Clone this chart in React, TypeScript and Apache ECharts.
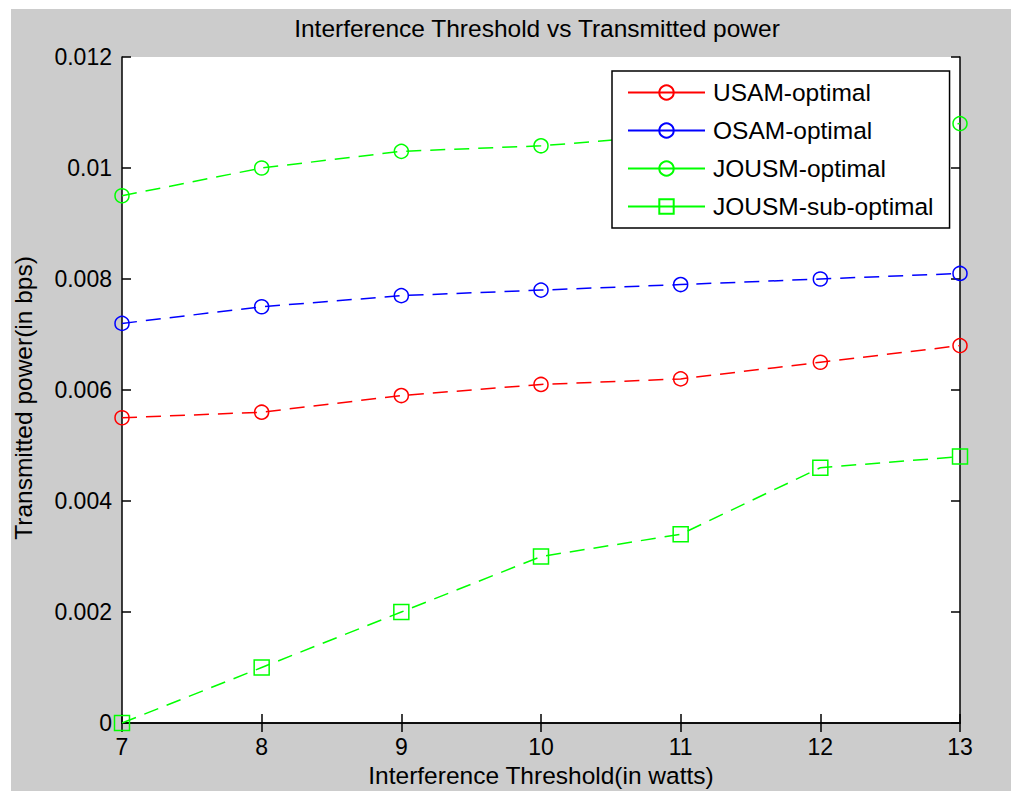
import React, { useEffect, useRef } from "react";
import * as echarts from "echarts";

const xValues = [7, 8, 9, 10, 11, 12, 13];
const usamOptimal = [0.0055, 0.0056, 0.0059, 0.0061, 0.0062, 0.0065, 0.0068];
const osamOptimal = [0.0072, 0.0075, 0.0077, 0.0078, 0.0079, 0.008, 0.0081];
const jousmOptimal = [0.0095, 0.01, 0.0103, 0.0104, 0.0106, 0.0107, 0.0108];
const jousmSubOptimal = [0, 0.001, 0.002, 0.003, 0.0034, 0.0046, 0.0048];
const seriesNames = ["USAM-optimal", "OSAM-optimal", "JOUSM-optimal", "JOUSM-sub-optimal"];

const FONT = "'Liberation Sans', Arial, Helvetica, sans-serif";

function pairs(ys: number[]) {
  return xValues.map((x, i) => [x, ys[i]]);
}

function makeSeries(name: string, ys: number[], color: string, symbol: string, size: number) {
  return {
    name,
    type: "line",
    data: pairs(ys),
    symbol,
    symbolSize: size,
    showSymbol: true,
    lineStyle: { color, width: 1.5, type: [15, 9] },
    itemStyle: { color: "rgba(0,0,0,0)", borderColor: color, borderWidth: 1.5 },
    emphasis: { disabled: true },
    z: 3,
  };
}

export default function App() {
  const ref = useRef<HTMLDivElement>(null);
  useEffect(() => {
    if (!ref.current) return;
    const chart = echarts.init(ref.current, null, { renderer: "svg" });
    const axisLine = { show: true, lineStyle: { color: "#000", width: 1.5 } };
    const axisTick = { show: true, inside: true, length: 9, lineStyle: { color: "#000", width: 1.5 } };
    chart.setOption({
      animation: false,
      backgroundColor: "#cccccc",
      textStyle: { fontFamily: FONT },
      graphic: [
        {
          type: "text",
          x: 526,
          y: 19,
          style: {
            text: "Interference Threshold vs Transmitted power",
            fontSize: 24.5,
            fontFamily: FONT,
            fill: "#000",
            align: "center",
            verticalAlign: "middle",
          },
        },
      ],
      grid: {
        left: 111,
        right: 51,
        top: 48,
        bottom: 68,
        show: true,
        backgroundColor: "#ffffff",
        borderWidth: 0,
        containLabel: false,
        outerBoundsMode: "none",
      },
      legend: {
        orient: "vertical",
        left: 601,
        top: 62,
        padding: [9, 16, 9, 15],
        itemWidth: 77,
        itemHeight: 18,
        itemGap: 13,
        backgroundColor: "#ffffff",
        borderColor: "#000",
        borderWidth: 1.5,
        textStyle: { fontSize: 24.5, color: "#000", fontFamily: FONT, padding: [0, 0, 0, 3] },
        lineStyle: { type: "solid" },
        data: seriesNames,
      },
      xAxis: [
        {
          type: "value",
          min: 7,
          max: 13,
          interval: 1,
          position: "bottom",
          name: "Interference Threshold(in watts)",
          nameLocation: "middle",
          nameGap: 37,
          nameTextStyle: { fontSize: 24.5, color: "#000", fontFamily: FONT },
          axisLine,
          axisTick,
          axisLabel: { fontSize: 23, color: "#000", margin: 12, fontFamily: FONT },
          splitLine: { show: false },
        },
        {
          type: "value",
          min: 7,
          max: 13,
          interval: 1,
          position: "top",
          axisLine,
          axisTick,
          axisLabel: { show: false },
          splitLine: { show: false },
        },
      ],
      yAxis: [
        {
          type: "value",
          min: 0,
          max: 0.012,
          interval: 0.002,
          position: "left",
          name: "Transmitted power(in bps)",
          nameLocation: "middle",
          nameGap: 86,
          nameTextStyle: { fontSize: 24.5, color: "#000", fontFamily: FONT, padding: [0, 16, 0, 0] },
          axisLine,
          axisTick,
          axisLabel: {
            fontSize: 23,
            color: "#000",
            margin: 10,
            fontFamily: FONT,
            formatter: (v: number) => (v === 0 ? "0" : v.toFixed(3).replace(/0+$/, "").replace(/\.$/, "")),
          },
          splitLine: { show: false },
        },
        {
          type: "value",
          min: 0,
          max: 0.012,
          interval: 0.002,
          position: "right",
          axisLine,
          axisTick,
          axisLabel: { show: false },
          splitLine: { show: false },
        },
      ],
      series: [
        makeSeries(seriesNames[0], usamOptimal, "#ff0000", "circle", 14),
        makeSeries(seriesNames[1], osamOptimal, "#0000ff", "circle", 14),
        makeSeries(seriesNames[2], jousmOptimal, "#00ff00", "circle", 14),
        makeSeries(seriesNames[3], jousmSubOptimal, "#00ff00", "rect", 15),
      ],
    });
    return () => chart.dispose();
  }, []);
  return (
    <div
      ref={ref}
      style={{ position: "fixed", left: 11, top: 9, width: 1000, height: 782, background: "#cccccc" }}
    />
  );
}
